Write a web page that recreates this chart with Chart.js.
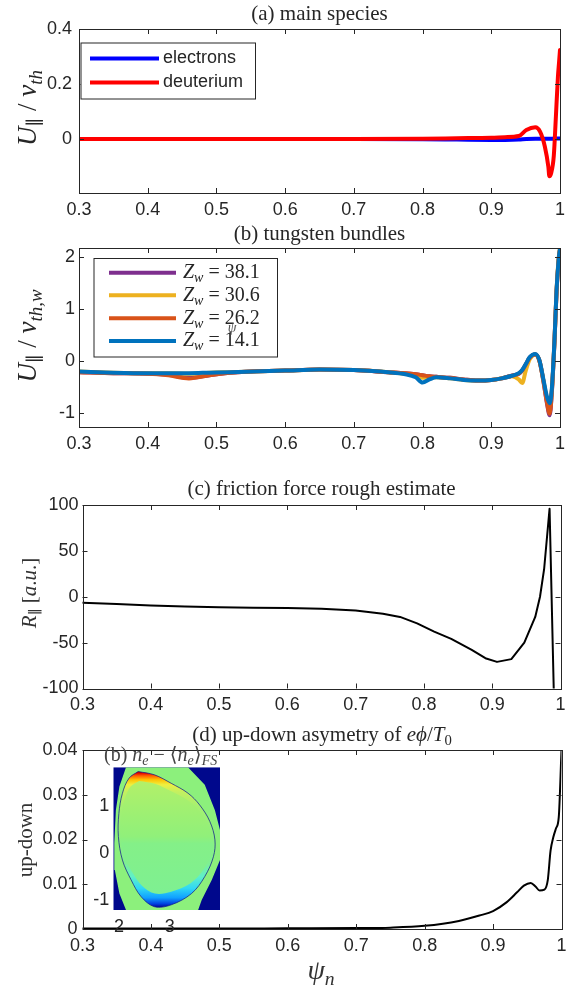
<!DOCTYPE html>
<html><head><meta charset="utf-8">
<script src="https://cdn.jsdelivr.net/npm/chart.js@4.4.1/dist/chart.umd.min.js"></script>
<style>
html,body{margin:0;padding:0;background:#fff;width:579px;height:988px;overflow:hidden}
canvas{position:absolute;left:0;top:0}
</style></head><body>
<canvas id="ca" width="579" height="988"></canvas>
<canvas id="cb" width="579" height="988"></canvas>
<canvas id="cc" width="579" height="988"></canvas>
<canvas id="cd" width="579" height="988"></canvas>
<canvas id="ci" width="579" height="988"></canvas>
<script>
// ---------------- data ----------------
const xTicks = [0.3, 0.4, 0.5, 0.6, 0.7, 0.8, 0.9, 1.0];

// (a) main species
const psiA = [0.3,0.4,0.5,0.6,0.7,0.8,0.85,0.9,0.92,0.94,0.951,0.964,0.971,0.978,0.983,0.9845,0.987,0.991,0.994,0.997,0.9985,1.0];
const deuterium = [0,0,0,0,0,0.001,0.003,0.005,0.007,0.011,0.033,0.043,0.027,-0.028,-0.100,-0.135,-0.125,-0.06,0.081,0.227,0.275,0.324];
const electrons = [0,0,0,0,0,-0.001,-0.002,-0.003,-0.003,-0.002,0,0.001,0.001,0.001,0.001,0.001,0.001,0.002,0.002,0.002,0.002,0.002];
const yTicksA = [0, 0.2, 0.4];

// (b) tungsten bundles
const psiB = [0.30,0.35,0.40,0.43,0.46,0.49,0.52,0.60,0.65,0.70,0.75,0.775,0.79,0.80,0.81,0.82,0.84,0.86,0.88,0.90,0.915,0.93,0.94,0.945,0.95,0.956,0.964,0.97,0.976,0.981,0.985,0.988,0.992,0.995,0.998,1.0];
const zw381 = [-0.22,-0.24,-0.25,-0.27,-0.33,-0.28,-0.23,-0.19,-0.17,-0.18,-0.22,-0.24,-0.26,-0.28,-0.30,-0.31,-0.33,-0.36,-0.38,-0.37,-0.34,-0.29,-0.25,-0.19,-0.08,0.06,0.12,0.00,-0.41,-0.82,-1.05,-0.64,0.37,1.33,1.92,2.14];
const zw306 = [-0.21,-0.23,-0.24,-0.24,-0.25,-0.23,-0.22,-0.19,-0.17,-0.18,-0.22,-0.25,-0.29,-0.33,-0.33,-0.32,-0.34,-0.37,-0.38,-0.37,-0.34,-0.30,-0.36,-0.43,-0.20,0.03,0.12,0.00,-0.39,-0.74,-0.90,-0.60,0.39,1.35,1.96,2.17];
const zw262 = [-0.22,-0.24,-0.25,-0.28,-0.34,-0.28,-0.23,-0.19,-0.17,-0.18,-0.22,-0.24,-0.26,-0.28,-0.30,-0.31,-0.33,-0.36,-0.38,-0.37,-0.34,-0.29,-0.25,-0.19,-0.08,0.06,0.12,0.00,-0.40,-0.80,-1.02,-0.62,0.38,1.34,1.93,2.15];
const zw141 = [-0.21,-0.23,-0.24,-0.24,-0.24,-0.23,-0.22,-0.19,-0.17,-0.18,-0.22,-0.26,-0.32,-0.42,-0.36,-0.32,-0.34,-0.37,-0.38,-0.37,-0.34,-0.29,-0.24,-0.18,-0.07,0.07,0.13,0.01,-0.37,-0.69,-0.82,-0.56,0.40,1.36,1.94,2.16];
const zwLabels = ['38.1','30.6','26.2','14.1'];
const yTicksB = [-1, 0, 1, 2];

// (c) friction force
const psiC = [0.3,0.35,0.4,0.45,0.5,0.55,0.6,0.65,0.7,0.74,0.765,0.79,0.815,0.84,0.87,0.89,0.907,0.928,0.947,0.963,0.97,0.976,0.984,0.991];
const friction = [-6.5,-8,-9.5,-10.5,-11.5,-12,-12.3,-13,-15,-18.5,-22,-29,-38,-46,-58,-67,-71,-68,-50,-22,0,30,96,-130];
const yTicksC = [-100, -50, 0, 50, 100];

// (d) up-down asymmetry
const psiD = [0.3,0.4,0.5,0.6,0.7,0.75,0.8,0.85,0.88,0.9,0.92,0.935,0.945,0.955,0.962,0.968,0.975,0.98,0.984,0.988,0.992,0.996,1.0];
const updown = [0.0001,0.0001,0.0001,0.00015,0.0002,0.0003,0.0007,0.0018,0.003,0.004,0.006,0.0082,0.0097,0.0103,0.0095,0.0086,0.0088,0.011,0.0175,0.0205,0.0225,0.025,0.04];
const yTicksD = [0, 0.01, 0.02, 0.03, 0.04];

// inset (b) n_e - <n_e>_FS  (R, Z outlines)
const insetXTicks = [2, 3];
const insetYTicks = [-1, 0, 1];
const bgR = [1.89,3.99,3.99,1.89,1.89];
const bgZ = [1.82,1.82,-1.21,-1.21,1.82];
const wallR = [2.14,3.36,3.69,3.89,3.99,3.99,3.83,3.63,3.56,2.14,2.01,1.92,1.91,1.94,2.01,2.14];
const wallZ = [1.82,1.82,1.45,0.91,0.49,-0.15,-0.57,-1.0,-1.21,-1.21,-0.86,-0.36,0.21,0.91,1.41,1.82];
const lcfsR = [2.38,2.70,3.03,3.36,3.59,3.79,3.89,3.86,3.69,3.43,3.03,2.70,2.44,2.24,2.07,1.99,2.00,2.07,2.20,2.38];
const lcfsZ = [1.73,1.66,1.48,1.27,1.02,0.67,0.28,-0.08,-0.50,-0.86,-1.10,-1.14,-0.93,-0.57,-0.15,0.35,0.84,1.27,1.59,1.73];
const coreR = [2.40,2.71,3.03,3.34,3.56,3.75,3.85,3.82,3.66,3.41,3.03,2.71,2.46,2.27,2.11,2.03,2.04,2.11,2.23,2.40];
const coreZ = [1.53,1.47,1.31,1.13,0.92,0.62,0.28,-0.03,-0.36,-0.64,-0.82,-0.86,-0.70,-0.42,-0.09,0.34,0.76,1.13,1.41,1.53];

// ---------------- helpers ----------------
const SERIF = "'Liberation Serif','DejaVu Serif',serif";
const SANS = "'Liberation Sans','DejaVu Sans',sans-serif";
const INK = '#262626';
function pts(xs, ys){ return xs.map((x,i)=>({x:x, y:ys[i]})); }
function fmt(v){ return String(Math.round(v*1000)/1000); }

function drawRich(ctx, it){
  ctx.save();
  ctx.translate(it.x, it.y);
  if (it.rot) ctx.rotate(it.rot);
  ctx.textBaseline = 'middle';
  ctx.fillStyle = it.color || INK;
  const base = it.size;
  const parts = it.segs.map(s=>{
    const small = s.sub || s.sup;
    const sz = base*(small?0.7:1);
    const font = (s.it?'italic ':'') + sz.toFixed(1) + 'px ' + (s.fam || it.fam || SERIF);
    ctx.font = font;
    return {t:s.t, font, w:ctx.measureText(s.t).width, dy: s.sub? base*0.28 : (s.sup? -base*0.3:0), gap: s.gap||0};
  });
  const total = parts.reduce((a,p)=>a+p.w+p.gap,0);
  let x = it.align==='left' ? 0 : (it.align==='right' ? -total : -total/2);
  for (const p of parts){ x+=p.gap; ctx.font=p.font; ctx.fillText(p.t, x, p.dy); x+=p.w; }
  ctx.restore();
}

function decor(opt){
  return {
    id:'decor',
    afterDatasetsDraw(chart){
      const ctx = chart.ctx, a = chart.chartArea;
      ctx.save();
      if (opt.box){
        ctx.strokeStyle = INK; ctx.lineWidth = 1;
        ctx.strokeRect(Math.round(a.left)+0.5, Math.round(a.top)+0.5, Math.round(a.right-a.left), Math.round(a.bottom-a.top));
        const L = 5;
        ctx.beginPath();
        opt.xt.forEach(v=>{ const px = Math.round(chart.scales.x.getPixelForValue(v))+0.5;
          ctx.moveTo(px, a.bottom); ctx.lineTo(px, a.bottom-L); ctx.moveTo(px, a.top); ctx.lineTo(px, a.top+L); });
        opt.yt.forEach(v=>{ const py = Math.round(chart.scales.y.getPixelForValue(v))+0.5;
          ctx.moveTo(a.left, py); ctx.lineTo(a.left+L, py); ctx.moveTo(a.right, py); ctx.lineTo(a.right-L, py); });
        ctx.stroke();
      }
      if (opt.legend){
        const lg = opt.legend;
        ctx.fillStyle = '#fff';
        ctx.fillRect(lg.x0, lg.y0, lg.x1-lg.x0, lg.y1-lg.y0);
        ctx.strokeStyle = INK; ctx.lineWidth = 1;
        ctx.strokeRect(lg.x0+0.5, lg.y0+0.5, lg.x1-lg.x0, lg.y1-lg.y0);
        lg.rows.forEach(r=>{
          ctx.strokeStyle = r.color; ctx.lineWidth = 4; ctx.lineCap='butt';
          ctx.beginPath(); ctx.moveTo(lg.lx0, r.y); ctx.lineTo(lg.lx1, r.y); ctx.stroke();
          drawRich(ctx, {x:lg.tx, y:r.y, size:lg.size, fam:lg.fam, align:'left', segs:r.segs});
        });
      }
      (opt.items||[]).forEach(i=>drawRich(ctx,i));
      ctx.restore();
    }
  };
}

function makeChart(id, area, xr, yr, xt, yt, datasets, deco, tk){
  tk = tk || {};
  return new Chart(document.getElementById(id), {
    type:'scatter',
    data:{datasets},
    options:{
      responsive:false, animation:false, devicePixelRatio:1, events:[],
      layout:{padding:{left:0, top:area.t, right:579-area.r, bottom:0}},
      plugins:{legend:{display:false}, tooltip:{enabled:false}, title:{display:false}},
      elements:{point:{radius:0}},
      scales:{
        x:{type:'linear', min:xr[0], max:xr[1], grid:{display:false, drawTicks:false}, border:{display:false},
           afterFit(s){ s.height = 988-area.b; },
           afterBuildTicks(s){ s.ticks = xt.map(v=>({value:v})); },
           ticks:{autoSkip:false, maxRotation:0, padding:(tk.xpad!==undefined?tk.xpad:6), color:INK, font:{family:SANS,size:tk.size||18}, callback:(v)=>fmt(v)}},
        y:{type:'linear', min:yr[0], max:yr[1], grid:{display:false, drawTicks:false}, border:{display:false},
           afterFit(s){ s.width = area.l; },
           afterBuildTicks(s){ s.ticks = yt.map(v=>({value:v})); },
           ticks:{autoSkip:false, padding:(tk.ypad!==undefined?tk.ypad:5), color:INK, font:{family:SANS,size:tk.size||18}, callback:(v)=>fmt(v)}}
      }
    },
    plugins:[decor(deco)]
  });
}

function line(xs, ys, color, w, mode){
  return {data:pts(xs,ys), borderColor:color, backgroundColor:color, borderWidth:w, showLine:true, pointRadius:0,
          fill:false, tension: mode==='straight'?0:0.4, cubicInterpolationMode: mode==='straight'?'default':'monotone',
          borderJoinStyle:'round', borderCapStyle:'round'};
}

const HALF_PI = -Math.PI/2;

// ---------------- (a) ----------------
makeChart('ca', {l:79, r:560, t:29, b:193}, [0.3,1], [-0.196,0.4], xTicks, yTicksA,
  [ line(psiA, deuterium, '#ff0000', 4), line(psiA, electrons, '#0000ff', 4) ],
  { box:true, xt:xTicks, yt:yTicksA,
    legend:{x0:80.5,y0:42.5,x1:255,y1:98.5,lx0:90,lx1:159,tx:163,size:18,fam:SANS,
      rows:[{y:58.5,color:'#0000ff',segs:[{t:'electrons'}]},{y:82.5,color:'#ff0000',segs:[{t:'deuterium'}]}]},
    items:[
      {x:319.5,y:14,size:21,align:'center',segs:[{t:'(a) main species'}]},
      {x:29,y:108,rot:HALF_PI,size:27,segs:[{t:'U',it:true},{t:'∥',sub:true,fam:"'DejaVu Serif',serif"},{t:' / '},{t:'v',it:true},{t:'th',it:true,sub:true}]}
    ]}, {ypad:7});

// ---------------- (b) ----------------
makeChart('cb', {l:79, r:560, t:248, b:427}, [0.3,1], [-1.275,2.167], xTicks, yTicksB,
  [ line(psiB, zw141, '#0072bd', 4), line(psiB, zw262, '#d95319', 4), line(psiB, zw306, '#edb120', 4), line(psiB, zw381, '#7e2f8e', 4) ],
  { box:true, xt:xTicks, yt:yTicksB,
    legend:{x0:93.5,y0:258,x1:277,y1:356.5,lx0:109,lx1:176,tx:183,size:20,fam:SERIF,
      rows:[
        {y:272.7,color:'#7e2f8e',segs:[{t:'Z',it:true},{t:'w',it:true,sub:true},{t:' = '+zwLabels[0]}]},
        {y:295.3,color:'#edb120',segs:[{t:'Z',it:true},{t:'w',it:true,sub:true},{t:' = '+zwLabels[1]}]},
        {y:318.3,color:'#d95319',segs:[{t:'Z',it:true},{t:'w',it:true,sub:true},{t:' = '+zwLabels[2]}]},
        {y:341,color:'#0072bd',segs:[{t:'Z',it:true},{t:'w',it:true,sub:true},{t:' = '+zwLabels[3]}]}
      ]},
    items:[
      {x:319.5,y:234,size:21,align:'center',segs:[{t:'(b) tungsten bundles'}]},
      {x:232,y:328,size:14,align:'center',color:'#555',segs:[{t:'ψ',it:true}]},
      {x:29,y:336,rot:HALF_PI,size:27,segs:[{t:'U',it:true},{t:'∥',sub:true,fam:"'DejaVu Serif',serif"},{t:' / '},{t:'v',it:true},{t:'th,w',it:true,sub:true}]}
    ]}, {ypad:4});

// ---------------- (c) ----------------
makeChart('cc', {l:82.5, r:560.5, t:505, b:688.5}, [0.3,1], [-100,100], xTicks, yTicksC,
  [ line(psiC, friction, '#000000', 2, 'straight') ],
  { box:true, xt:xTicks, yt:yTicksC,
    items:[
      {x:321.5,y:489,size:21,align:'center',segs:[{t:'(c) friction force rough estimate'}]},
      {x:30,y:593,rot:HALF_PI,size:21,color:'#333',segs:[{t:'R',it:true},{t:'∥',sub:true,fam:"'DejaVu Serif',serif"},{t:' ['},{t:'a',it:true},{t:'.'},{t:'u',it:true},{t:'.]'}]}
    ]}, {ypad:4});

// ---------------- (d) ----------------
makeChart('cd', {l:82.5, r:561.5, t:750, b:929}, [0.3,1], [0,0.04], xTicks, yTicksD,
  [ line(psiD, updown, '#000000', 2) ],
  { box:true, xt:xTicks, yt:yTicksD,
    items:[
      {x:322,y:735,size:21,align:'center',segs:[{t:'(d) up-down asymetry of '},{t:'eϕ',it:true},{t:'/'},{t:'T',it:true},{t:'0',sub:true}]},
      {x:26,y:840,rot:HALF_PI,size:21,color:'#333',segs:[{t:'up-down'}]},
      {x:321,y:972,size:28,align:'center',color:'#333',segs:[{t:'ψ',it:true},{t:'n',it:true,sub:true}]}
    ]}, {ypad:5});

// ---------------- inset ----------------
const lcfsStops = [[1.75,'#7a0000'],[1.70,'#e00000'],[1.64,'#ff6000'],[1.56,'#ffc000'],[1.45,'#eef040'],[1.3,'#c4f060'],[1.0,'#a6f070'],[0.3,'#8cf080'],[-0.2,'#80f090'],[-0.5,'#60f0c8'],[-0.75,'#30d8f4'],[-0.95,'#10a0ff'],[-1.08,'#0040e0'],[-1.16,'#000090']];
const coreStops = [[1.55,'#b4f068'],[1.0,'#a2f070'],[0.35,'#90f07a'],[0.2,'#84f088'],[-0.9,'#7ef092']];
function vgrad(stops){
  return (c)=>{
    const ch = c.chart;
    if (!ch || !ch.chartArea || !ch.scales || !ch.scales.y) return stops[0][1];
    const ys = ch.scales.y;
    const y0 = ys.getPixelForValue(stops[0][0]), y1 = ys.getPixelForValue(stops[stops.length-1][0]);
    const g = ch.ctx.createLinearGradient(0, y0, 0, y1);
    stops.forEach(s=>{ const f = (ys.getPixelForValue(s[0])-y0)/(y1-y0); g.addColorStop(Math.min(1,Math.max(0,f)), s[1]); });
    return g;
  };
}
const coreDS = {data:pts(coreR,coreZ), showLine:true, pointRadius:0, borderWidth:0, borderColor:'rgba(0,0,0,0)', fill:'shape', tension:0.35, backgroundColor:vgrad(coreStops)};
const lcfsDS = {data:pts(lcfsR,lcfsZ), showLine:true, pointRadius:0, borderWidth:1, borderColor:'rgba(20,30,140,0.75)', fill:'shape', tension:0.35, backgroundColor:vgrad(lcfsStops)};
const wallDS = {data:pts(wallR,wallZ), showLine:true, pointRadius:0, borderWidth:0, borderColor:'rgba(0,0,0,0)', fill:'shape', tension:0, backgroundColor:'#8cf07c'};
const bgDS = {data:pts(bgR,bgZ), showLine:true, pointRadius:0, borderWidth:0, borderColor:'rgba(0,0,0,0)', fill:'shape', tension:0, backgroundColor:'#00088c'};

makeChart('ci', {l:113.3, r:220, t:767.3, b:910}, [1.89,3.99], [-1.21,1.82], insetXTicks, insetYTicks,
  [ coreDS, lcfsDS, wallDS, bgDS ],
  { box:false,
    items:[
      {x:104,y:756,size:20,align:'left',color:'#444',segs:[{t:'(b) '},{t:'n',it:true},{t:'e',it:true,sub:true},{t:' − '},{t:'⟨',fam:"'DejaVu Serif',serif"},{t:'n',it:true},{t:'e',it:true,sub:true},{t:'⟩',fam:"'DejaVu Serif',serif"},{t:'FS',it:true,sub:true}]}
    ]},
  {xpad:6, ypad:4, size:18});
</script>
</body></html>
